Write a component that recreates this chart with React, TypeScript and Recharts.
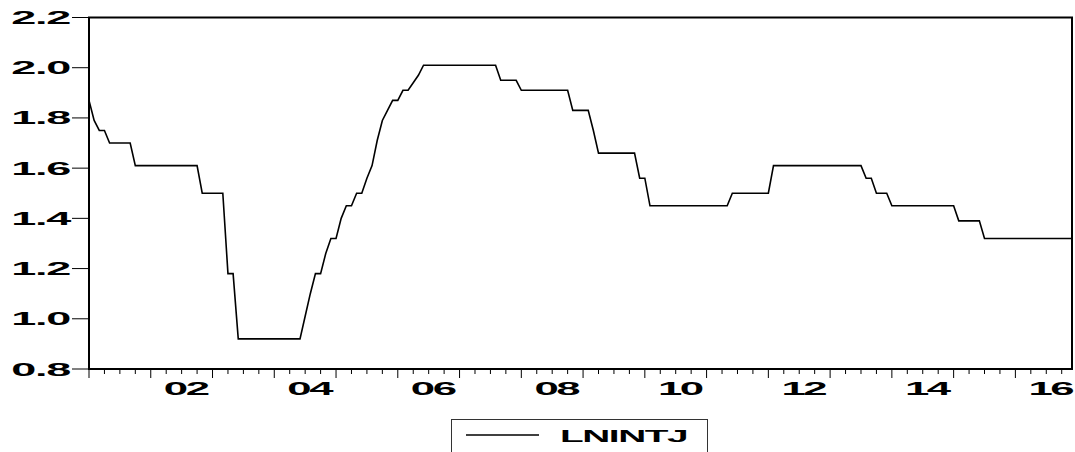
import React from 'react';
import { LineChart, Line, XAxis, YAxis, ReferenceArea, Legend } from 'recharts';

// monthly series, 2001M01 .. 2016M12
const startYear = 2001;
const lnintj = [
  1.87, 1.79, 1.75, 1.75, 1.70, 1.70, 1.70, 1.70, 1.70, 1.61, 1.61, 1.61, // 2001
  1.61, 1.61, 1.61, 1.61, 1.61, 1.61, 1.61, 1.61, 1.61, 1.61, 1.50, 1.50, // 2002
  1.50, 1.50, 1.50, 1.18, 1.18, 0.92, 0.92, 0.92, 0.92, 0.92, 0.92, 0.92, // 2003
  0.92, 0.92, 0.92, 0.92, 0.92, 0.92, 1.01, 1.10, 1.18, 1.18, 1.26, 1.32, // 2004
  1.32, 1.40, 1.45, 1.45, 1.50, 1.50, 1.56, 1.61, 1.71, 1.79, 1.83, 1.87, // 2005
  1.87, 1.91, 1.91, 1.94, 1.97, 2.01, 2.01, 2.01, 2.01, 2.01, 2.01, 2.01, // 2006
  2.01, 2.01, 2.01, 2.01, 2.01, 2.01, 2.01, 2.01, 1.95, 1.95, 1.95, 1.95, // 2007
  1.91, 1.91, 1.91, 1.91, 1.91, 1.91, 1.91, 1.91, 1.91, 1.91, 1.83, 1.83, // 2008
  1.83, 1.83, 1.75, 1.66, 1.66, 1.66, 1.66, 1.66, 1.66, 1.66, 1.66, 1.56, // 2009
  1.56, 1.45, 1.45, 1.45, 1.45, 1.45, 1.45, 1.45, 1.45, 1.45, 1.45, 1.45, // 2010
  1.45, 1.45, 1.45, 1.45, 1.45, 1.50, 1.50, 1.50, 1.50, 1.50, 1.50, 1.50, // 2011
  1.50, 1.61, 1.61, 1.61, 1.61, 1.61, 1.61, 1.61, 1.61, 1.61, 1.61, 1.61, // 2012
  1.61, 1.61, 1.61, 1.61, 1.61, 1.61, 1.61, 1.56, 1.56, 1.50, 1.50, 1.50, // 2013
  1.45, 1.45, 1.45, 1.45, 1.45, 1.45, 1.45, 1.45, 1.45, 1.45, 1.45, 1.45, // 2014
  1.45, 1.39, 1.39, 1.39, 1.39, 1.39, 1.32, 1.32, 1.32, 1.32, 1.32, 1.32, // 2015
  1.32, 1.32, 1.32, 1.32, 1.32, 1.32, 1.32, 1.32, 1.32, 1.32, 1.32, 1.32, // 2016
];
const yTicks = [0.8, 1.0, 1.2, 1.4, 1.6, 1.8, 2.0, 2.2];
const yearLabels = ['02', '04', '06', '08', '10', '12', '14', '16'];
const seriesName = 'LNINTJ';

const data = lnintj.map((v, i) => ({ i, v }));
const lastIdx = lnintj.length - 1;
const quarterTicks = data.filter((d) => d.i % 3 === 0).map((d) => d.i);

const FONT = '"Liberation Sans", Arial, sans-serif';

// the original graph is stretched sideways: wide glyphs, tight spacing
const XTick = (props: any) => {
  const { x, y, payload } = props;
  const m = payload.value;
  const isYear = m % 12 === 0;
  const yr = startYear + Math.floor(m / 12);
  const label = String(yr % 100).padStart(2, '0');
  const showLabel = m % 12 === 6 && yearLabels.includes(label);
  return (
    <g>
      <line x1={x} x2={x} y1={y} y2={y + (isYear ? 9 : 5)} stroke="#000" strokeWidth={1} />
      {showLabel && (
        <text
          transform={`translate(${x + 4},${y + 26}) scale(2.5,1)`}
          textAnchor="middle"
          fontFamily={FONT}
          fontWeight={700}
          fontSize={17.5}
          letterSpacing={-1}
          fill="#000"
        >
          {label}
        </text>
      )}
    </g>
  );
};

const YTick = (props: any) => {
  const { x, y, payload } = props;
  return (
    <g>
      <line x1={x - 17} x2={x} y1={y} y2={y} stroke="#000" strokeWidth={1} />
      <text
        transform={`translate(${x - 19},${y + 6.5}) scale(2.5,1)`}
        textAnchor="end"
        fontFamily={FONT}
        fontWeight={700}
        fontSize={18}
        letterSpacing={-0.5}
        fill="#000"
      >
        {Number(payload.value).toFixed(1)}
      </text>
    </g>
  );
};

const LegendBox = () => (
  <svg width={257} height={40} style={{ display: 'block' }}>
    <rect x={0.5} y={0.5} width={256} height={50} fill="#fff" stroke="#333" strokeWidth={1} />
    <line x1={15} x2={88} y1={16} y2={16} stroke="#000" strokeWidth={1.5} />
    <text
      transform="translate(109,23) scale(2.35,1)"
      fontFamily={FONT}
      fontWeight={700}
      fontSize={16.5}
      letterSpacing={-0.6}
      fill="#000"
    >
      {seriesName}
    </text>
  </svg>
);

export default function App() {
  return (
    <div style={{ position: 'absolute', left: 0, top: 0, width: 1075, height: 452, background: '#fff' }}>
      <LineChart width={1075} height={452} data={data} margin={{ top: 17.5, right: 3, left: 0, bottom: 53 }}>
        <XAxis
          dataKey="i"
          type="number"
          domain={[0, lastIdx]}
          ticks={quarterTicks}
          interval={0}
          height={30}
          tickSize={0}
          tickMargin={0}
          tickLine={false}
          axisLine={{ stroke: '#000', strokeWidth: 2 }}
          tick={<XTick />}
        />
        <YAxis
          type="number"
          domain={[0.8, 2.2]}
          ticks={yTicks}
          interval={0}
          width={89}
          tickSize={0}
          tickMargin={0}
          tickLine={false}
          axisLine={{ stroke: '#000', strokeWidth: 2 }}
          tick={<YTick />}
        />
        <ReferenceArea x1={0} x2={lastIdx} y1={0.8} y2={2.2} fill="none" stroke="#000" strokeWidth={2} />
        <Line
          type="linear"
          dataKey="v"
          name={seriesName}
          stroke="#000"
          strokeWidth={1.6}
          dot={false}
          isAnimationActive={false}
        />
        <Legend
          layout="horizontal"
          verticalAlign="middle"
          align="center"
          content={<LegendBox />}
          wrapperStyle={{ position: 'absolute', left: 451, top: 419, width: 257, height: 40 }}
        />
      </LineChart>
    </div>
  );
}
